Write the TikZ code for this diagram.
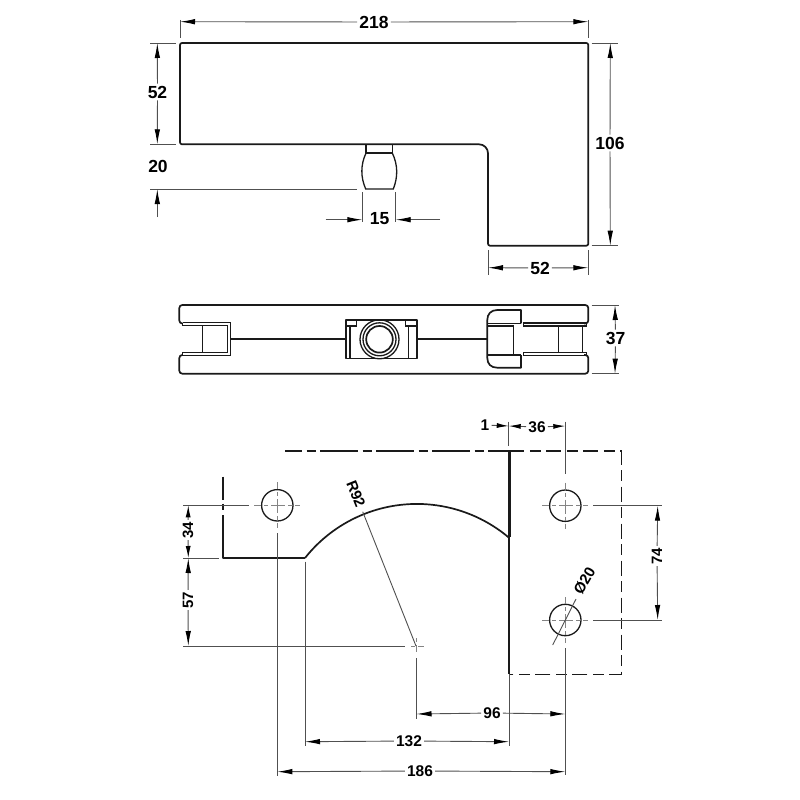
\documentclass[tikz,border=0pt]{standalone}
\usepackage{fontspec}
\setmainfont{Liberation Sans}
\usetikzlibrary{arrows.meta}
\definecolor{inkdark}{HTML}{1A1A1A}
\definecolor{inkdim}{HTML}{505050}
\begin{document}
\begin{tikzpicture}[x=1pt,y=-1pt,
  part/.style={draw=inkdark,line width=1.7pt,line join=round},
  thinpart/.style={draw=inkdark,line width=1.3pt},
  ext/.style={draw=inkdim,line width=0.9pt},
  centre/.style={draw=inkdim!70,line width=0.8pt,dash pattern=on 14pt off 3pt on 4pt off 3pt},
  dim/.style={draw=inkdim,line width=0.9pt,>={Latex[length=15pt,width=5.5pt,color=black]}},
  shortdim/.style={draw=inkdim,line width=0.9pt,>={Latex[length=12pt,width=5pt,color=black]}},
  phantomline/.style={draw=inkdark,line width=1.4pt,dash pattern=on 38pt off 4.5pt on 9pt off 4.5pt,dash phase=21pt},
  dashline/.style={draw=inkdark,line width=1.5pt,dash pattern=on 15pt off 5.5pt on 11pt off 5.5pt},
  numbig/.style={font=\fontsize{17.5}{17}\selectfont\bfseries,inner sep=2pt},
  numsmall/.style={font=\fontsize{15.5}{15}\selectfont\bfseries,inner sep=2pt},
  numturn/.style={font=\fontsize{15}{15}\selectfont\bfseries,inner sep=1.5pt}]
\useasboundingbox (0,0) rectangle (800,800);
% top view
\draw[part,rounded corners=2pt] (470,144.3) -- (180,144.3) -- (180,43) -- (588.3,43) -- (588.3,245.7) -- (488,245.7) -- (488,160);
\draw[part] (470,144.3) -- (479,144.3) arc[start angle=-90,end angle=0,radius=9] -- (488,160);
\draw[thinpart] (366,144.3) -- (366,153) -- (392.3,153) -- (392.3,144.3);
\draw[thinpart] (366,153) .. controls (360.5,165) and (360.5,177) .. (365.7,189) -- (393.3,189) .. controls (398,177) and (398,165) .. (392.3,153);
\draw[ext] (180,20) -- (180,38) (588.3,20) -- (588.3,38);
\draw[ext] (150,43) -- (176,43) (150,144.3) -- (176,144.3);
\draw[ext] (150,189) -- (357,189);
\draw[ext] (362.3,192) -- (362.3,222) (395.7,192) -- (395.7,222);
\draw[ext] (591.7,43) -- (618,43) (591.7,245.7) -- (618,245.7);
\draw[ext] (488,250) -- (488,275) (588.3,250) -- (588.3,275);
\node[numbig] (T218) at (374,22) {218};
\node[numbig] (T52a) at (157.5,92) {52};
\node[numbig] (T20) at (158,166) {20};
\node[numbig] (T15) at (379.5,219) {15};
\node[numbig] (T106) at (610,143) {106};
\node[numbig] (T52b) at (540,268) {52};
\coordinate (A218) at (180,21.7);
\coordinate (B218) at (588.3,21.7);
\coordinate (A52a) at (157.3,43);
\coordinate (B52a) at (157.3,144.3);
\coordinate (A20) at (157.3,217);
\coordinate (B20) at (157.3,189);
\coordinate (A15) at (325.7,219.7);
\coordinate (B15) at (362.3,219.7);
\coordinate (C15) at (440,219.7);
\coordinate (D15) at (395.7,219.7);
\coordinate (A106) at (610.3,43);
\coordinate (B106) at (610.3,245.7);
\coordinate (A52b) at (488,267.7);
\coordinate (B52b) at (588.3,267.7);
\draw[dim,<-] (A218) -- (T218);
\draw[dim,->] (T218) -- (B218);
\draw[dim,<-] (A52a) -- (T52a);
\draw[dim,->] (T52a) -- (B52a);
\draw[dim,->] (A20) -- (B20);
\draw[dim,->] (A15) -- (B15);
\draw[dim,->] (C15) -- (D15);
\draw[dim,<-] (A106) -- (T106);
\draw[dim,->] (T106) -- (B106);
\draw[dim,<-] (A52b) -- (T52b);
\draw[dim,->] (T52b) -- (B52b);
% front view
\draw[part,rounded corners=3pt] (182.7,323.5) -- (179.3,323.5) -- (179.3,305) -- (588.3,305) -- (588.3,323.5) -- (584,323.5);
\draw[part,rounded corners=3pt] (182.7,355) -- (179.3,355) -- (179.3,373.7) -- (588.3,373.7) -- (588.3,355) -- (584,355);
\draw[thinpart] (182.7,322.7) -- (230.7,322.7) -- (230.7,355.7) -- (182.7,355.7);
\draw[thinpart] (182.7,325.7) -- (227.3,325.7) -- (227.3,352.3) -- (182.7,352.3);
\draw[thinpart] (182.7,322.7) -- (182.7,325.7) (182.7,352.3) -- (182.7,355.7);
\draw[thinpart] (202.7,325.7) -- (202.7,352.3);
\draw[part,line width=1.9pt] (230.7,338.7) -- (345.7,338.7);
\draw[part,line width=1.9pt] (416.7,338.7) -- (487.3,338.7);
\draw[part] (345.7,320.3) rectangle (416.7,358.5);
\draw[thinpart] (350,326) -- (350,358.5) (408.3,326) -- (408.3,358.5);
\draw[thinpart] (345.7,326) -- (356.5,326) -- (356.5,320.3) (416.7,326) -- (405.7,326) -- (405.7,320.3);
\draw[thinpart] (379.5,339.3) circle[radius=19.5];
\draw[thinpart] (379.5,339.3) circle[radius=16.5];
\draw[part] (379.5,339.3) circle[radius=13.3];
\draw[part] (521,323.3) -- (521,310) -- (497.3,310) .. controls (491,310) and (487.3,314) .. (487.3,320) -- (487.3,358) .. controls (487.3,364) and (491,367.7) .. (497.3,367.7) -- (521,367.7) -- (521,355);
\draw[thinpart] (487.3,323.3) -- (521,323.3);
\draw[thinpart] (487.3,326) -- (513.3,326) -- (513.3,355) (487.3,355) -- (521,355);
\draw[thinpart] (523.3,323) rectangle (586.7,326);
\draw[thinpart] (523.3,352.3) rectangle (586.7,355.7);
\draw[thinpart] (558.3,326) -- (558.3,352.3) (582.3,326) -- (582.3,352.3);
\draw[ext] (591.7,305) -- (619,305) (591.7,373.7) -- (619,373.7);
\node[numbig] (T37) at (615.5,338) {37};
\coordinate (A37) at (615,305);
\coordinate (B37) at (615,373.7);
\draw[dim,<-] (A37) -- (T37);
\draw[dim,->] (T37) -- (B37);
% bottom view
\draw[phantomline] (285,451) -- (509.3,451);
\draw[dashline] (509.3,451) -- (621.7,451) -- (621.7,674.3) -- (509.3,674.3);
\draw[draw=inkdark,line width=2.4pt] (509.3,451) -- (509.3,536.7);
\draw[part] (509.3,536.7) -- (509.3,674.3);
\draw[part] (223,476.7) -- (223,500) (223,503.5) -- (223,510) (223,515) -- (223,558) -- (305,558);
\draw[part] (305,558) arc[start angle=-141.6,end angle=-49.8,radius=142.7];
\foreach \cx/\cy in {277.3/505.3,565.3/505.7,565.3/620}{
  \draw[thinpart] (\cx,\cy) circle[radius=15.7];
  \draw[centre,dash phase=7pt] (\cx-23,\cy) -- (\cx+23,\cy);
  \draw[centre,dash phase=7pt] (\cx,\cy-23) -- (\cx,\cy+23);
}
\draw[ext] (183.3,505.3) -- (249,505.3) (183.3,558) -- (219,558);
\draw[ext] (183.3,646) -- (405,646);
\draw[centre,dash phase=15pt] (409,646) -- (424,646);
\draw[centre,dash phase=15pt] (416.5,636) -- (416.5,652);
\draw[ext] (277.3,533) -- (277.3,776);
\draw[ext] (305,561.7) -- (305,746);
\draw[ext] (416.5,658) -- (416.5,719);
\draw[ext] (509,674.3) -- (509,746);
\draw[ext] (565.3,648) -- (565.3,775);
\draw[ext] (565.3,421.7) -- (565.3,474);
\draw[ext] (508.7,421.7) -- (508.7,446);
\draw[ext] (593,505.7) -- (662,505.7) (593,620) -- (662,620);
\draw[ext] (416,646) -- (362.7,511.7);
\draw[ext] (552.7,645) -- (576,599);
\node[numsmall] (T96) at (492,713) {96};
\node[numsmall] (T132) at (409,741) {132};
\node[numsmall] (T186) at (420,771) {186};
\node[numsmall] (T1) at (485,425) {1};
\node[numsmall] (T36) at (537,427) {36};
\node[numturn,rotate=90] (T34) at (188,530) {34};
\node[numturn,rotate=90] (T57) at (188,600) {57};
\node[numturn,rotate=90] (T74) at (657,556) {74};
\node[numturn,rotate=-68] (TR92) at (356,494) {R92};
\node[numturn,rotate=60] (TD20) at (584.5,581) {Ø20};
\coordinate (A96) at (416.5,714);
\coordinate (B96) at (565.3,714);
\coordinate (A132) at (305,741.7);
\coordinate (B132) at (509,741.7);
\coordinate (A186) at (277.3,771.7);
\coordinate (B186) at (565.3,771.7);
\coordinate (A1) at (508.7,426);
\coordinate (A36) at (508.7,426);
\coordinate (B36) at (565.3,426);
\coordinate (A34) at (188.3,505.3);
\coordinate (B34) at (188.3,558);
\coordinate (A57) at (188.3,558);
\coordinate (B57) at (188.3,646);
\coordinate (A74) at (657.7,505.7);
\coordinate (B74) at (657.7,620);
\draw[dim,<-] (A96) -- (T96);
\draw[dim,->] (T96) -- (B96);
\draw[dim,<-] (A132) -- (T132);
\draw[dim,->] (T132) -- (B132);
\draw[dim,<-] (A186) -- (T186);
\draw[dim,->] (T186) -- (B186);
\draw[shortdim,->] (T1) -- (A1);
\draw[shortdim,<-] (A36) -- (T36);
\draw[shortdim,->] (T36) -- (B36);
\draw[shortdim,<-] (A34) -- (T34);
\draw[shortdim,->] (T34) -- (B34);
\draw[dim,<-] (A57) -- (T57);
\draw[dim,->] (T57) -- (B57);
\draw[dim,<-] (A74) -- (T74);
\draw[dim,->] (T74) -- (B74);
\end{tikzpicture}
\end{document}
